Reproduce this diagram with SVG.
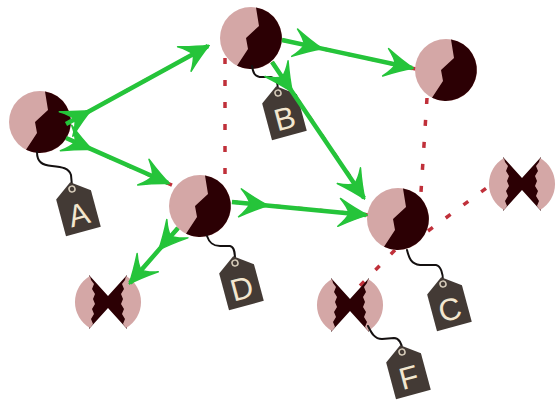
<svg xmlns="http://www.w3.org/2000/svg" width="556" height="404" viewBox="0 0 556 404">
<style>
.pink{fill:#d4a7a6}
.dark{fill:#2c0004}
.dash{fill:none;stroke:#c0303a;stroke-width:3.5;stroke-dasharray:6 16}
.arrow{fill:none;stroke:#25c43a;stroke-width:4.5;stroke-linejoin:round;marker-mid:url(#ah);marker-end:url(#ah)}
.cord{fill:none;stroke:#141010;stroke-width:2;stroke-linecap:round}
.tag{fill:#433a35}
.hole{fill:none;stroke:#d8cdbb;stroke-width:1.5}
.lbl{font-family:"Liberation Sans",Arial,sans-serif;font-size:31px;fill:#f3e7cf;text-anchor:middle}
</style>
<defs>
<marker id="ah" viewBox="-30 -16 32 32" refX="0" refY="0" markerWidth="32" markerHeight="32" markerUnits="userSpaceOnUse" orient="auto">
<path d="M1.5,0 Q-11,-5 -27,-14 Q-19,-6 -17,0 Q-19,6 -27,14 Q-11,5 1.5,0 Z" fill="#25c43a" stroke="#25c43a" stroke-width="1.5" stroke-linejoin="round"/>
</marker>
<g id="ball">
<circle r="31" class="pink"/>
<path class="dark" d="M5,-30.6 L8,-12 L-5,0 L-3,11 L-14,27.7 A31,31 0 1 0 5,-30.6 Z"/>
</g>
<g id="bow">
<path class="dark" d="M-19,-27 L0,-6 L19,-27 L19,27 L0,6 L-19,27 Z"/>
<path class="pink" d="M-18,-26 A30,30 0 0 0 -18,26 L-15,22 L-17,17 L-14,12 L-16,7 L-13,2 L-15,-3 L-13,-8 L-16,-13 L-14,-18 L-17,-22 Z"/>
<path class="pink" d="M18,-26 A30,30 0 0 1 18,26 L15,22 L17,17 L14,12 L16,7 L13,2 L15,-3 L13,-8 L16,-13 L14,-18 L17,-22 Z"/>
</g>
<path id="tagshape" class="tag" d="M0,-7 L18,6 L18,44 L-18,44 L-18,6 Z"/>
</defs>

<g id="dashed-connectors">
<path class="dash" d="M66,124 L219,40"/>
<path class="dash" d="M66,138 L176,187"/>
<path class="dash" d="M282,40 L416,69"/>
<path class="dash" d="M272,62 L370,206"/>
<path class="dash" d="M232,202 L369,215"/>
<path class="dash" d="M178,228 L135,277"/>
<path class="dash" d="M225,58 L225,188"/>
<path class="dash" d="M427,98 L421,192"/>
<path class="dash" d="M428,231 L496,181"/>
<path class="dash" d="M395,250 L350,296"/>
</g>

<g id="node-A">
<use href="#ball" x="40" y="122"/>
<path class="cord" d="M37,152 C37,162 42,165 52,166 C62,167 69,168 71,175 L72,186"/>
<g transform="translate(72,189) rotate(-15)">
<use href="#tagshape"/>
<circle r="3" class="hole"/>
<text class="lbl" x="0" y="37">A</text>
</g>
</g>

<g id="node-B">
<use href="#ball" x="251" y="38"/>
<path class="cord" d="M252,66 C253,72 254,77 262,77 L271,77 C276,78 278,84 278,90"/>
<g transform="translate(278,93) rotate(-15)">
<use href="#tagshape"/>
<circle r="3" class="hole"/>
<text class="lbl" x="0" y="37">B</text>
</g>
</g>

<g id="node-E">
<use href="#ball" x="446" y="70"/>
</g>

<g id="node-D">
<use href="#ball" x="200" y="206"/>
<path class="cord" d="M207,236 C209,242 212,246 220,246 L230,246 C235,247 235,255 235,260"/>
<g transform="translate(235,263) rotate(-15)">
<use href="#tagshape"/>
<circle r="3" class="hole"/>
<text class="lbl" x="0" y="37">D</text>
</g>
</g>

<g id="node-C">
<use href="#ball" x="398" y="219"/>
<path class="cord" d="M407,250 C409,258 411,264 420,265 L436,265 C441,266 443,274 443,281"/>
<g transform="translate(443,284) rotate(-15)">
<use href="#tagshape"/>
<circle r="3" class="hole"/>
<text class="lbl" x="0" y="37">C</text>
</g>
</g>

<g id="node-bow-left">
<use href="#bow" x="108" y="302"/>
</g>

<g id="node-bow-right">
<use href="#bow" x="522" y="184"/>
</g>

<g id="node-F">
<use href="#bow" x="350" y="305"/>
<path class="cord" d="M368,326 C371,332 374,339 382,339 L394,338 C399,338 402,344 402,349"/>
<g transform="translate(402,352) rotate(-15)">
<use href="#tagshape"/>
<circle r="3" class="hole"/>
<text class="lbl" x="0" y="37">F</text>
</g>
</g>

<g id="arrow-connectors">
<path class="arrow" d="M66,124 L89.7,111 L208,46"/>
<path class="arrow" d="M66,138 L90.7,148.9 L168,183"/>
<path class="arrow" d="M282,40 L321,48.4 L412,68"/>
<path class="arrow" d="M272,62 L291.6,91 L364,198"/>
<path class="arrow" d="M232,202 L266.8,205.4 L366,215"/>
<path class="arrow" d="M178,228 L159.6,249 L130,283"/>
</g>
</svg>
